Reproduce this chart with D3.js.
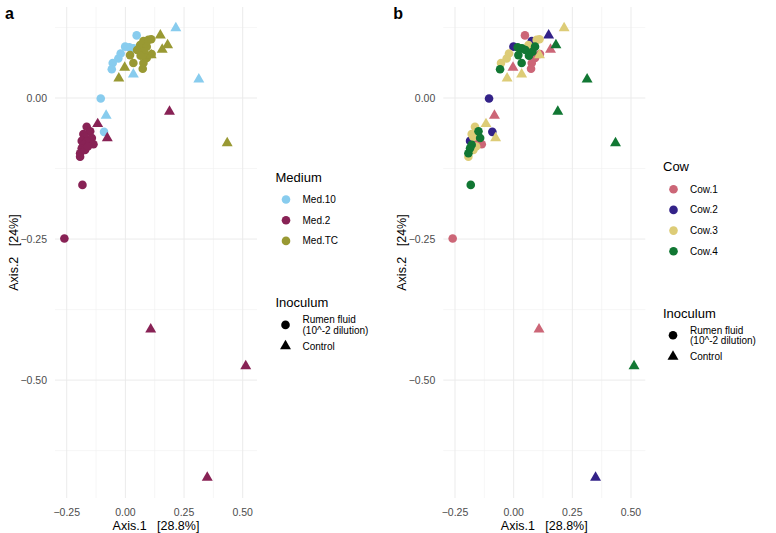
<!DOCTYPE html>
<html>
<head>
<meta charset="utf-8">
<script src="https://cdn.jsdelivr.net/npm/d3@7"></script>
<style>
  body { margin: 0; background: #fff; }
  text { font-family: "Liberation Sans", Arial, sans-serif; }
</style>
</head>
<body>
<div id="chart"></div>
<script>
// PCoA coordinates, one entry per sample
const axis1 = [
  // Med.10
  0.048, -0.001, 0.017, 0.035, -0.020, -0.030, -0.054, -0.058, -0.105, -0.091,
  0.215, 0.313, 0.034, -0.082,
  // Med.2
  -0.165, -0.150, -0.179, -0.172, -0.143, -0.186, -0.165, -0.136, -0.179, -0.186,
  -0.172, -0.193, -0.193, -0.160, -0.183, -0.260,
  0.188, -0.118, -0.077, 0.108, 0.513, 0.349,
  // Med.TC
  0.077, 0.098, 0.110, 0.063, 0.091, 0.080, 0.091, 0.112, 0.020, 0.034,
  0.077, 0.074, 0.050, 0.065,
  0.149, 0.180, 0.157, 0.110, -0.003, -0.028, 0.434
];
const axis2 = [
  0.111, 0.091, 0.090, 0.088, 0.079, 0.070, 0.062, 0.051, -0.001, -0.060,
  0.124, 0.033, 0.042, -0.031,
  -0.051, -0.059, -0.064, -0.069, -0.071, -0.076, -0.077, -0.082, -0.083, -0.089,
  -0.092, -0.098, -0.104, -0.086, -0.154, -0.249,
  -0.024, -0.046, -0.071, -0.410, -0.475, -0.673,
  0.101, 0.103, 0.104, 0.094, 0.091, 0.082, 0.071, 0.078, 0.076, 0.062,
  0.062, 0.052, 0.085, 0.075,
  0.111, 0.094, 0.086, 0.076, 0.054, 0.035, -0.080
];
const medium = [
  "Med.10","Med.10","Med.10","Med.10","Med.10","Med.10","Med.10","Med.10","Med.10","Med.10",
  "Med.10","Med.10","Med.10","Med.10",
  "Med.2","Med.2","Med.2","Med.2","Med.2","Med.2","Med.2","Med.2","Med.2","Med.2",
  "Med.2","Med.2","Med.2","Med.2","Med.2","Med.2",
  "Med.2","Med.2","Med.2","Med.2","Med.2","Med.2",
  "Med.TC","Med.TC","Med.TC","Med.TC","Med.TC","Med.TC","Med.TC","Med.TC","Med.TC","Med.TC",
  "Med.TC","Med.TC","Med.TC","Med.TC",
  "Med.TC","Med.TC","Med.TC","Med.TC","Med.TC","Med.TC","Med.TC"
];
const cow = [
  "Cow.1","Cow.2","Cow.4","Cow.4","Cow.3","Cow.3","Cow.3","Cow.4","Cow.2","Cow.2",
  "Cow.3","Cow.4","Cow.3","Cow.1",
  "Cow.3","Cow.4","Cow.3","Cow.3","Cow.4","Cow.2","Cow.1","Cow.1","Cow.4","Cow.4",
  "Cow.3","Cow.4","Cow.3","Cow.3","Cow.4","Cow.1",
  "Cow.4","Cow.3","Cow.3","Cow.1","Cow.4","Cow.2",
  "Cow.2","Cow.3","Cow.3","Cow.3","Cow.4","Cow.4","Cow.1","Cow.1","Cow.4","Cow.4",
  "Cow.1","Cow.1","Cow.4","Cow.4",
  "Cow.2","Cow.4","Cow.1","Cow.3","Cow.1","Cow.3","Cow.4"
];
const R = "Rumen fluid\n(10^-2 dilution)", C = "Control";
const inoculum = [
  R,R,R,R,R,R,R,R,R,R,
  C,C,C,C,
  R,R,R,R,R,R,R,R,R,R,
  R,R,R,R,R,R,
  C,C,C,C,C,C,
  R,R,R,R,R,R,R,R,R,R,
  R,R,R,R,
  C,C,C,C,C,C,C
];

const mediumLevels = ["Med.10", "Med.2", "Med.TC"];
const mediumColors = ["#88CCEE", "#882255", "#999933"];
const cowLevels = ["Cow.1", "Cow.2", "Cow.3", "Cow.4"];
const cowColors = ["#CC6677", "#332288", "#DDCC77", "#117733"];
const inoculumLevels = [R, C];
const xTicks = [-0.25, 0, 0.25, 0.5];
const xMinor = [-0.125, 0.125, 0.375];
const yTicks = [0, -0.25, -0.5];
const yMinor = [0.125, -0.125, -0.375, -0.625];

const data = axis1.map((d, i) => ({
  x: d, y: axis2[i], medium: medium[i], cow: cow[i], inoculum: inoculum[i]
}));

const W = 776, H = 533;
const svg = d3.select("#chart").append("svg")
  .attr("width", W).attr("height", H);

const shapeScale = d3.scaleOrdinal().domain(inoculumLevels)
  .range([d3.symbolCircle, d3.symbolTriangle]);
const symSize = d => d === d3.symbolCircle ? 58 : 52;
const fmt = d3.format(".2f");

function drawPanel(left, letter, key, levels, colors, title, legendX, legendTop) {
  const top = 7, bottom = 498, pw = 202;
  const x = d3.scaleLinear().domain([-0.30, 0.561]).range([left, left + pw]);
  const y = d3.scaleLinear().domain([0.1613, -0.709]).range([top, bottom]);
  const color = d3.scaleOrdinal().domain(levels).range(colors);
  const g = svg.append("g");

  // grid
  g.selectAll(".vmin").data(xMinor).enter().append("line")
    .attr("x1", d => x(d)).attr("x2", d => x(d)).attr("y1", top).attr("y2", bottom)
    .attr("stroke", "#f0f0f0").attr("stroke-width", 0.6);
  g.selectAll(".hmin").data(yMinor).enter().append("line")
    .attr("y1", d => y(d)).attr("y2", d => y(d)).attr("x1", left).attr("x2", left + pw)
    .attr("stroke", "#f0f0f0").attr("stroke-width", 0.6);
  g.selectAll(".vmaj").data(xTicks).enter().append("line")
    .attr("x1", d => x(d)).attr("x2", d => x(d)).attr("y1", top).attr("y2", bottom)
    .attr("stroke", "#ebebeb").attr("stroke-width", 1);
  g.selectAll(".hmaj").data(yTicks).enter().append("line")
    .attr("y1", d => y(d)).attr("y2", d => y(d)).attr("x1", left).attr("x2", left + pw)
    .attr("stroke", "#ebebeb").attr("stroke-width", 1);

  // tick labels
  g.selectAll(".xt").data(xTicks).enter().append("text")
    .attr("x", d => x(d)).attr("y", bottom + 14)
    .attr("text-anchor", "middle").attr("dominant-baseline", "central")
    .attr("font-size", "10.5px").attr("fill", "#4d4d4d")
    .text(fmt);
  g.selectAll(".yt").data(yTicks).enter().append("text")
    .attr("x", left - 8).attr("y", d => y(d))
    .attr("text-anchor", "end").attr("dominant-baseline", "central")
    .attr("font-size", "10.5px").attr("fill", "#4d4d4d")
    .text(fmt);

  // axis titles
  g.append("text")
    .attr("x", left + pw / 2).attr("y", 530)
    .attr("text-anchor", "middle").attr("font-size", "12.5px")
    .style("white-space", "pre")
    .text("Axis.1   [28.8%]");
  g.append("text")
    .attr("transform", `translate(${left - 37},${(top + bottom) / 2}) rotate(-90)`)
    .attr("text-anchor", "middle").attr("font-size", "12.5px")
    .style("white-space", "pre")
    .text("Axis.2   [24%]");

  // panel letter
  svg.append("text")
    .attr("x", left - 50).attr("y", 18.5)
    .attr("font-size", "16px").attr("font-weight", "bold")
    .text(letter);

  // points, drawn in legend order of the colour variable
  const sorted = data.slice().sort((a, b) => levels.indexOf(a[key]) - levels.indexOf(b[key]));
  g.selectAll(".pt").data(sorted).enter().append("path")
    .attr("transform", d => `translate(${x(d.x)},${y(d.y)})`)
    .attr("d", d => d3.symbol().type(shapeScale(d.inoculum)).size(symSize(shapeScale(d.inoculum)))())
    .attr("fill", d => color(d[key]));

  // legend: colour
  const lg = svg.append("g");
  lg.append("text").attr("x", legendX).attr("y", legendTop)
    .attr("dominant-baseline", "central").attr("font-size", "13px").text(title);
  levels.forEach((lv, i) => {
    const ly = legendTop + 22.5 + i * 20.7;
    lg.append("circle").attr("cx", legendX + 10.5).attr("cy", ly).attr("r", 4.3)
      .attr("fill", color(lv));
    lg.append("text").attr("x", legendX + 27).attr("y", ly)
      .attr("dominant-baseline", "central").attr("font-size", "10px").text(lv);
  });

  // legend: shape
  const iy = legendTop + 22.5 + levels.length * 20.7 + 41.3;
  lg.append("text").attr("x", legendX).attr("y", iy)
    .attr("dominant-baseline", "central").attr("font-size", "13px").text("Inoculum");
  inoculumLevels.forEach((lv, i) => {
    const ky = i === 0 ? iy + 22 : iy + 43.3;
    const sym = shapeScale(lv);
    lg.append("path")
      .attr("transform", `translate(${legendX + 10},${ky})`)
      .attr("d", d3.symbol().type(sym).size(symSize(sym))())
      .attr("fill", "#000");
    const lines = lv.split("\n");
    lines.forEach((t, j) => {
      const ty = lines.length > 1 ? iy + 17 + j * 10.5 : ky;
      lg.append("text").attr("x", legendX + 27).attr("y", ty)
        .attr("dominant-baseline", "central").attr("font-size", "10px").text(t);
    });
  });
}

drawPanel(55, "a", "medium", mediumLevels, mediumColors, "Medium", 275.5, 177);
drawPanel(443.3, "b", "cow", cowLevels, cowColors, "Cow", 663, 166.7);
</script>
</body>
</html>
